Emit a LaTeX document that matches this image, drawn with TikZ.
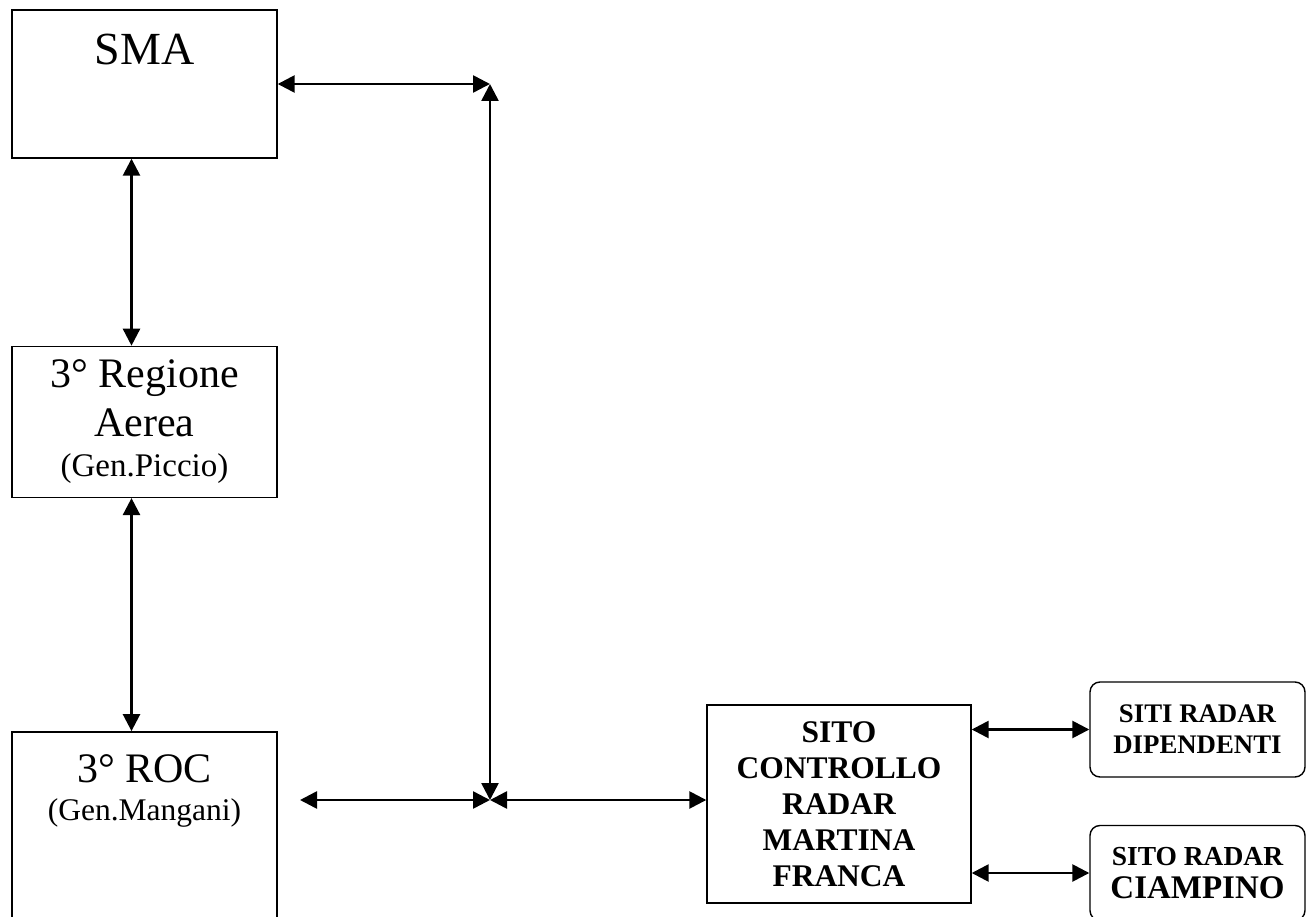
\documentclass[tikz,border=0pt]{standalone}
\usepackage{fontspec}
\setmainfont{Liberation Serif}
\usetikzlibrary{arrows.meta,positioning}

\begin{document}
\begin{tikzpicture}[x=1pt,y=-1pt,
 blk/.style={draw,line width=1.4pt,minimum width=265pt,inner sep=0pt},
 rblk/.style={draw,line width=1.4pt,rounded corners=10pt,minimum width=215pt,minimum height=95pt,align=center,inner sep=0pt},
 bidir/.style={{Triangle[length=17pt,width=17pt]}-{Triangle[length=17pt,width=17pt]},line width=2.6pt},
 big/.style={font=\fontsize{46}{52}\selectfont}]
 \useasboundingbox (0,0) rectangle (1310,917);

 % left column
 \node[blk,minimum height=148pt] (sma) at (144.5,84) {};
 \node[big,anchor=base] (smat) at ([yshift=-55pt]sma.north) {SMA};

 \node[blk,minimum height=151pt,align=center,font=\fontsize{42}{49}\selectfont] (reg) [below=187pt of sma]
  {3° Regione\\Aerea\\[-9pt]{\fontsize{33}{38}\selectfont (Gen.Piccio)}};

 \node[blk,minimum height=200pt,anchor=north] (roc) [below=233pt of reg] {};
 \node[anchor=base,font=\fontsize{42}{48}\selectfont] (roct) at ([yshift=-51pt]roc.north) {3° ROC};
 \node[anchor=base,font=\fontsize{31.5}{36}\selectfont] (rocs) at ([yshift=-89pt]roc.north) {(Gen.Mangani)};

 % radar sites
 \node[blk,minimum width=264pt,minimum height=198pt,align=center,
  font=\bfseries\fontsize{31.5}{36}\selectfont] (sito) at (839,804)
  {SITO\\CONTROLLO\\RADAR\\MARTINA\\FRANCA};
 \node[rblk,font=\bfseries\fontsize{26.8}{31}\selectfont] (siti) at (1197.5,729.5)
  {SITI RADAR\\DIPENDENTI};
 \node[rblk,font=\bfseries\fontsize{27.5}{33}\selectfont] (ciamp) at (1197.5,873)
  {SITO RADAR\\{\fontsize{33}{33}\selectfont CIAMPINO}};

 % junctions
 \coordinate (jt) at (490,84);
 \coordinate (jb) at (490,800);
 \coordinate (rocend) at (300,800);

 \draw[bidir] ([xshift=-13pt]sma.south) -- ([xshift=-13pt]reg.north);
 \draw[bidir] ([xshift=-13pt]reg.south) -- ([xshift=-13pt]roc.north);
 \draw[bidir] (sma.east) -- (jt);
 \draw[bidir] (jt) -- (jb);
 \draw[bidir] (rocend) -- (jb);
 \draw[bidir] (jb) -- (jb -| sito.west);
 \draw[bidir] (siti.west -| sito.east) -- (siti.west);
 \draw[bidir] (ciamp.west -| sito.east) -- (ciamp.west);
\end{tikzpicture}
\end{document}
